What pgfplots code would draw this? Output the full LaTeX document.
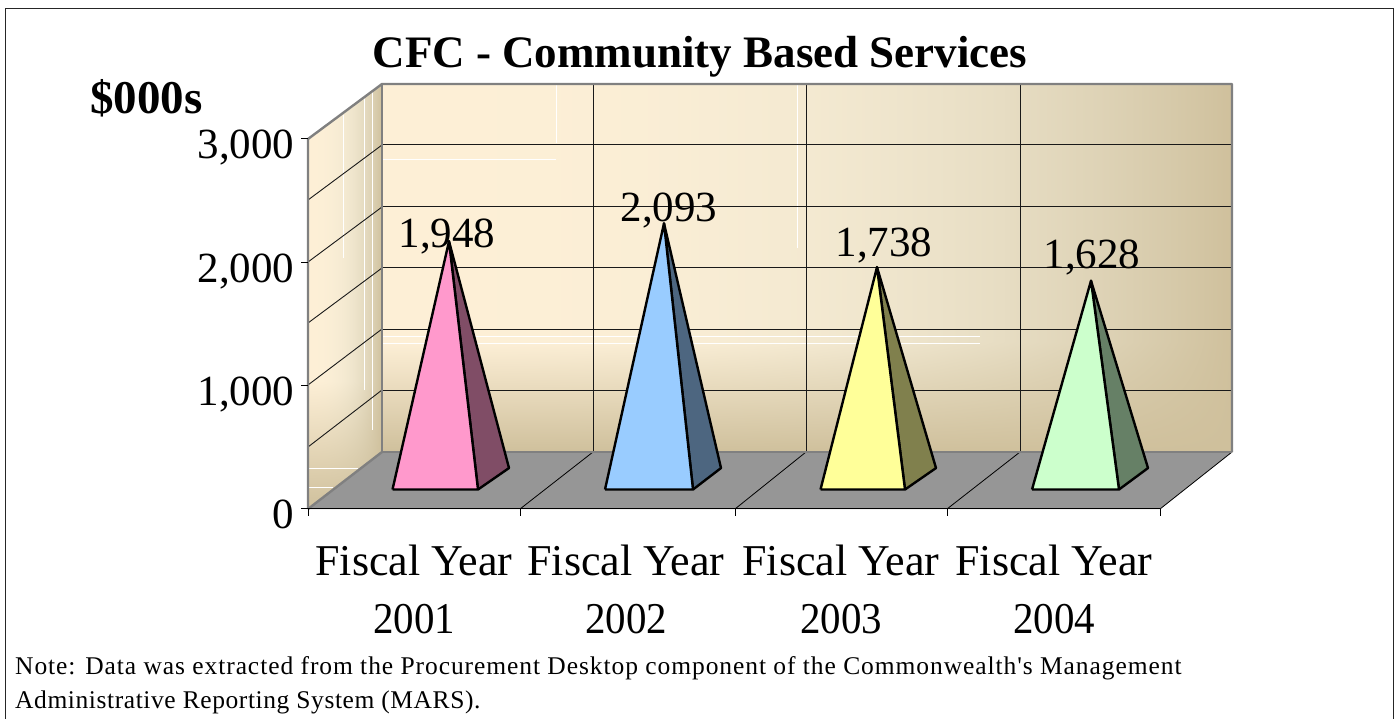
\documentclass[border=0pt]{standalone}
\usepackage{pgfplots}
\pgfplotsset{compat=1.18}
\usepackage{fontspec}
\setmainfont{Liberation Serif}
\newfontfamily\notefont[LetterSpace=3.65]{Liberation Serif}
\newfontfamily\notefontb[LetterSpace=2.3]{Liberation Serif}

% Wall texture: cream towards the upper left, tan towards the right and the floor.
% Red falls off a little sooner across the wall than green and blue, which keeps the middle pale.
\pgfdeclarefunctionalshading{wall}{\pgfpointorigin}{\pgfpoint{100bp}{100bp}}{}{
  25 sub 50 div 0.30 exch sub 0.30 div dup 0 lt {pop 0} if 1 exch sub
  exch 25 sub 50 div dup 0 lt {pop 0} if
  1 index 1 index 2.3 exp 1 exch sub mul 0.180 mul 0.812 add 3 1 roll
  1 index 1 index 3 exp 1 exch sub mul 0.184 mul 0.753 add 3 1 roll
  3.5 exp 1 exch sub mul 0.227 mul 0.612 add
}

\definecolor{wallline}{HTML}{808080}
\definecolor{floorgrey}{HTML}{969696}
\definecolor{pinkF}{HTML}{FF99CC}\definecolor{pinkS}{HTML}{804D66}
\definecolor{blueF}{HTML}{99CCFF}\definecolor{blueS}{HTML}{4D6680}
\definecolor{yellF}{HTML}{FFFF99}\definecolor{yellS}{HTML}{80804D}
\definecolor{greenF}{HTML}{CCFFCC}\definecolor{greenS}{HTML}{668066}

% One pyramid: left, right, far corner x, apex x, value, front and side colours.
\newcommand{\pyramid}[7]{%
  \addplot[draw=black,line width=2.4pt,line join=round,fill=#7,yshift=27.5pt]
    coordinates {(#2,-65) (#3,109) (#4,#5) (#2,-65)};
  \addplot[draw=black,line width=2.4pt,line join=round,fill=#6,yshift=27.5pt]
    coordinates {(#1,-65) (#2,-65) (#4,#5) (#1,-65)};
}
% Value label above a pyramid, set from the value itself.
\newcommand{\vallabel}[3]{%
  \addplot[draw=none,forget plot,yshift=27.5pt,point meta=y,
    nodes near coords,
    nodes near coords style={font=\fontsize{43}{43}\selectfont,anchor=base,yshift=#3pt,
      /pgf/number format/.cd,fixed,1000 sep={,},assume math mode=true}]
    coordinates {(#1,#2)};
}
% Year line of a category label, set a little condensed.
\newcommand{\yr}[1]{\scalebox{0.93}[1]{\fontsize{44}{58}\selectfont #1}}

\begin{document}
\begin{tikzpicture}
\useasboundingbox (0,0) rectangle (1397pt,719pt);

% Page furniture and the two walls and floor, placed in picture units
\begin{axis}[at={(0,0)},anchor=south west,hide axis,scale only axis,clip=false,
  width=1397pt,height=719pt,xmin=0,xmax=1397,ymin=0,ymax=719,y dir=reverse]
  \draw[line width=1.6pt,color=black!85] (axis cs:5.5,725) -- (axis cs:5.5,8.5) -- (axis cs:1393.5,8.5) -- (axis cs:1393.5,725);
  % back wall
  \shade[shading=wall] (axis cs:382,84) rectangle (axis cs:1232,452);
  % side wall, the same texture sheared onto it
  \begin{scope}
    \clip (axis cs:308,139) -- (axis cs:382,84) -- (axis cs:382,452) -- (axis cs:308,509) -- cycle;
    \begin{scope}[shift={(axis cs:308,509)},yslant=0.757]
      \shade[shading=wall] (0,0) rectangle (74pt,370pt);
    \end{scope}
  \end{scope}
  % light streaks in the wall texture
  \draw[white,line width=0.8pt] (axis cs:383,159) -- (axis cs:556,159);
  \draw[white,line width=0.8pt] (axis cs:556,85) -- (axis cs:556,143);
  \draw[white,line width=0.8pt] (axis cs:797,85) -- (axis cs:797,248);
  \draw[white,line width=0.8pt] (axis cs:383,336) -- (axis cs:980,336);
  \draw[white,line width=0.8pt] (axis cs:383,343) -- (axis cs:980,343);
  \draw[white,line width=0.8pt] (axis cs:343,115) -- (axis cs:343,258);
  \draw[white,line width=0.8pt] (axis cs:364,93) -- (axis cs:364,390);
  \draw[white,line width=0.8pt] (axis cs:372,92) -- (axis cs:372,430);
  \draw[white,line width=0.8pt] (axis cs:308,468) -- (axis cs:358,468);
  \draw[white,line width=0.8pt] (axis cs:308,487) -- (axis cs:333,487);
  % floor
  \fill[floorgrey] (axis cs:308,509) -- (axis cs:382,452) -- (axis cs:1232,452) -- (axis cs:1160,509) -- cycle;
  % grid on the back wall
  \draw[black!90,line width=1pt] (axis cs:382,145) -- (axis cs:1232,145);
  \draw[black!90,line width=1pt] (axis cs:382,207) -- (axis cs:1232,207);
  \draw[black!90,line width=1pt] (axis cs:382,268) -- (axis cs:1232,268);
  \draw[black!90,line width=1pt] (axis cs:382,329) -- (axis cs:1232,329);
  \draw[black!90,line width=1pt] (axis cs:382,390) -- (axis cs:1232,390);
  \draw[black!90,line width=1pt] (axis cs:593,84) -- (axis cs:593,452);
  \draw[black!90,line width=1pt] (axis cs:806,84) -- (axis cs:806,452);
  \draw[black!90,line width=1pt] (axis cs:1020,84) -- (axis cs:1020,452);
  % grid on the side wall
  \draw[black!90,line width=0.9pt] (axis cs:382,145) -- (axis cs:308,200);
  \draw[black!90,line width=0.9pt] (axis cs:382,207) -- (axis cs:308,262);
  \draw[black!90,line width=0.9pt] (axis cs:382,268) -- (axis cs:308,323);
  \draw[black!90,line width=0.9pt] (axis cs:382,329) -- (axis cs:308,385);
  \draw[black!90,line width=0.9pt] (axis cs:382,390) -- (axis cs:308,447);
  % grid on the floor
  \draw[black,line width=0.8pt] (axis cs:520,509) -- (axis cs:593,452);
  \draw[black,line width=0.8pt] (axis cs:735,509) -- (axis cs:806,452);
  \draw[black,line width=0.8pt] (axis cs:947,509) -- (axis cs:1020,452);
  \draw[black,line width=0.8pt] (axis cs:1160,509) -- (axis cs:1232,452);
  % wall edges
  \draw[wallline,line width=2.4pt,line join=round] (axis cs:308,509) -- (axis cs:308,139) -- (axis cs:382,84) -- (axis cs:1232,84) -- (axis cs:1232,452);
  \draw[wallline,line width=2.4pt] (axis cs:382,84) -- (axis cs:382,452);
  \draw[wallline,line width=2.4pt] (axis cs:308,509) -- (axis cs:382,452);
  \draw[wallline,line width=2pt] (axis cs:382,452) -- (axis cs:1232,452);
  % titles and note
  \node[anchor=base,font=\fontsize{45}{45}\selectfont\bfseries] at (axis cs:700,68) {CFC - Community Based Services};
  \node[anchor=base west,inner sep=0pt,font=\fontsize{47}{47}\selectfont\bfseries] at (axis cs:90,114) {\$000s};
  \node[anchor=base west,inner sep=0pt,font=\fontsize{25.5}{25.5}\notefont] at (axis cs:15,674) {Note: Data was extracted from the Procurement Desktop component of the Commonwealth's Management};
  \node[anchor=base west,inner sep=0pt,font=\fontsize{25.5}{25.5}\notefontb] at (axis cs:15,708) {Administrative Reporting System (MARS).};
\end{axis}

% The chart proper: value axis, category axis, pyramids and their labels
\begin{axis}[at={(308pt,210pt)},anchor=south west,scale only axis,clip=false,
  width=852pt,height=370pt,xmin=308,xmax=1160,ymin=0,ymax=3000,
  axis y line*=left,axis x line*=bottom,
  axis line style={-,line width=1pt},
  y axis line style={draw=none},
  every tick/.style={black,line width=1pt},
  major tick length=7pt,tick align=outside,
  ytick={0,1000,2000,3000},
  xtick={308,520,735,947,1160},xticklabels={},
  extra x ticks={414,626,841,1054},
  extra x tick labels={Fiscal Year\\\yr{2001},Fiscal Year\\\yr{2002},Fiscal Year\\\yr{2003},Fiscal Year\\\yr{2004}},
  extra x tick style={major tick length=0pt,
    xticklabel style={align=center,font=\fontsize{44}{58}\selectfont,yshift=-32pt}},
  yticklabel style={font=\fontsize{43}{43}\selectfont,anchor=base east,yshift=-20pt,xshift=-3pt},
  /pgf/number format/.cd,fixed,1000 sep={,},assume math mode=true]
  \pyramid{392.5}{478}{509}{449}{1948}{pinkF}{pinkS}
  \pyramid{605}{693}{721}{664}{2093}{blueF}{blueS}
  \pyramid{820.5}{905}{936}{877}{1738}{yellF}{yellS}
  \pyramid{1032}{1119}{1148}{1091}{1628}{greenF}{greenS}
  \vallabel{447}{1948}{-6}
  \vallabel{669}{2093}{2}
  \vallabel{884}{1738}{11}
  \vallabel{1092}{1628}{12}
\end{axis}
\end{tikzpicture}
\end{document}
